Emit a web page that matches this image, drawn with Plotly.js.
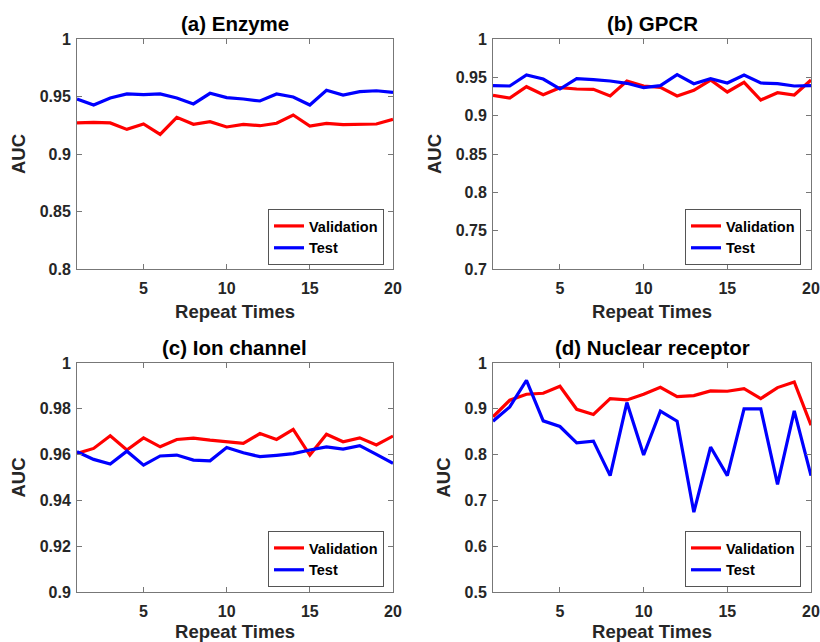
<!DOCTYPE html>
<html>
<head>
<meta charset="utf-8">
<script src="https://cdn.plot.ly/plotly-3.0.1.min.js"></script>
<style>html,body{margin:0;padding:0;background:#fff;}#chart{width:820px;height:642px;}</style>
</head>
<body>
<div id="chart"></div>
<script>
const repeats = [1,2,3,4,5,6,7,8,9,10,11,12,13,14,15,16,17,18,19,20];

const enzymeValidation = [0.927,0.9275,0.927,0.9214,0.9261,0.9171,0.9319,0.9258,0.9281,0.9235,0.9258,0.9246,0.9267,0.9339,0.9243,0.9267,0.9255,0.9261,0.9261,0.9301];
const enzymeTest = [0.9478,0.9426,0.9487,0.9522,0.9516,0.9522,0.9487,0.9435,0.9528,0.949,0.9478,0.9461,0.9522,0.9496,0.9426,0.9554,0.9513,0.9542,0.955,0.9536];

const gpcrValidation = [0.9265,0.923,0.9378,0.9274,0.9365,0.9348,0.9343,0.9257,0.9452,0.9387,0.937,0.9257,0.933,0.9465,0.9309,0.9435,0.9204,0.93,0.927,0.9465];
const gpcrTest = [0.9391,0.9387,0.953,0.9478,0.9348,0.9483,0.947,0.9452,0.9422,0.9365,0.9391,0.9535,0.9417,0.9483,0.9426,0.953,0.9426,0.9417,0.9387,0.9391];

const ionValidation = [0.9605,0.9627,0.9682,0.962,0.9673,0.9634,0.9666,0.9672,0.9663,0.9656,0.9649,0.9692,0.9666,0.971,0.9598,0.9689,0.9656,0.9673,0.9642,0.9681];
const ionTest = [0.9613,0.9579,0.9559,0.9615,0.9554,0.9594,0.9598,0.9576,0.9573,0.9631,0.9608,0.9591,0.9597,0.9604,0.962,0.9634,0.9624,0.9639,0.9601,0.9562];

const nuclearValidation = [0.8824,0.9187,0.9318,0.934,0.9492,0.899,0.8875,0.9224,0.9194,0.9318,0.947,0.9267,0.9289,0.939,0.9383,0.9441,0.9224,0.9463,0.9586,0.8643];
const nuclearTest = [0.873,0.9042,0.9623,0.8737,0.8614,0.8258,0.8295,0.754,0.9136,0.7991,0.8949,0.873,0.6742,0.8165,0.754,0.8998,0.8998,0.7352,0.8954,0.754];

const panelTitles = ['(a) Enzyme','(b) GPCR','(c) Ion channel','(d) Nuclear receptor'];
const seriesNames = ['Validation','Test'];
const xTickVals = [5,10,15,20];
const xTickText = ['5','10','15','20'];
const yTickVals = [
  [0.8,0.85,0.9,0.95,1],
  [0.7,0.75,0.8,0.85,0.9,0.95,1],
  [0.9,0.92,0.94,0.96,0.98,1],
  [0.5,0.6,0.7,0.8,0.9,1]
];
const yTickText = [
  ['0.8','0.85','0.9','0.95','1'],
  ['0.7','0.75','0.8','0.85','0.9','0.95','1'],
  ['0.9','0.92','0.94','0.96','0.98','1'],
  ['0.5','0.6','0.7','0.8','0.9','1']
];
const yRanges = [[0.8,1],[0.7,1],[0.9,1],[0.5,1]];

const validationData = [enzymeValidation,gpcrValidation,ionValidation,nuclearValidation];
const testData = [enzymeTest,gpcrTest,ionTest,nuclearTest];

const FONT = 'Liberation Sans, Arial, Helvetica, sans-serif';
const xDomains = [[77/820,393/820],[493/820,811/820],[77/820,393/820],[493/820,811/820]];
const yDomains = [[1-269/642,1-39/642],[1-269/642,1-39/642],[1-592/642,1-363/642],[1-592/642,1-363/642]];
const legendPos = [
  {x:384/820, y:1-265/642},
  {x:801/820, y:1-265/642},
  {x:384/820, y:1-587/642},
  {x:801/820, y:1-587/642}
];

const traces = [];
const layout = {
  width:820, height:642,
  margin:{l:0,r:0,t:0,b:0},
  paper_bgcolor:'#fff', plot_bgcolor:'#fff',
  font:{family:FONT, color:'#262626'},
  annotations:[]
};

for (let i=0;i<4;i++){
  const sfx = i===0 ? '' : String(i+1);
  const legName = 'legend' + sfx;
  traces.push({
    x:repeats, y:validationData[i], type:'scatter', mode:'lines',
    name:seriesNames[0], line:{color:'#ff0000', width:3.2},
    xaxis:'x'+sfx, yaxis:'y'+sfx, legend:legName
  });
  traces.push({
    x:repeats, y:testData[i], type:'scatter', mode:'lines',
    name:seriesNames[1], line:{color:'#0000ff', width:3.2},
    xaxis:'x'+sfx, yaxis:'y'+sfx, legend:legName
  });
  layout['xaxis'+sfx] = {
    domain:xDomains[i], range:[1,20], anchor:'y'+sfx,
    tickvals:xTickVals, ticktext:xTickText,
    ticks:'inside', ticklen:5, tickcolor:'#777', tickwidth:1,
    showline:true, linecolor:'#777', linewidth:1, mirror:'ticks',
    showgrid:false, zeroline:false, ticklabelstandoff:5,
    tickfont:{family:FONT, size:16, weight:'bold', color:'#262626'},
    title:{text:'Repeat Times', font:{family:FONT, size:18.5, weight:'bold', color:'#262626'}, standoff:8}
  };
  layout['yaxis'+sfx] = {
    domain:yDomains[i], range:yRanges[i], anchor:'x'+sfx,
    tickvals:yTickVals[i], ticktext:yTickText[i],
    ticks:'inside', ticklen:5, tickcolor:'#777', tickwidth:1,
    showline:true, linecolor:'#777', linewidth:1, mirror:'ticks',
    showgrid:false, zeroline:false, ticklabelstandoff:2,
    tickfont:{family:FONT, size:16, weight:'bold', color:'#262626'},
    title:{text:'AUC', font:{family:FONT, size:18.5, weight:'bold', color:'#262626'}, standoff:9}
  };
  layout[legName] = {
    x:legendPos[i].x, y:legendPos[i].y, xanchor:'right', yanchor:'bottom',
    bgcolor:'#fff', bordercolor:'#555', borderwidth:1,
    font:{family:FONT, size:14.5, weight:'bold', color:'#000'},
    tracegroupgap:0, itemwidth:30
  };
  layout.annotations.push({
    text:panelTitles[i], xref:'paper', yref:'paper',
    x:(xDomains[i][0]+xDomains[i][1])/2, y:yDomains[i][1],
    xanchor:'center', yanchor:'bottom', yshift:2, showarrow:false,
    font:{family:FONT, size:20.5, weight:'bold', color:'#000'}
  });
}

Plotly.newPlot('chart', traces, layout, {displayModeBar:false, staticPlot:true});
</script>
</body>
</html>
